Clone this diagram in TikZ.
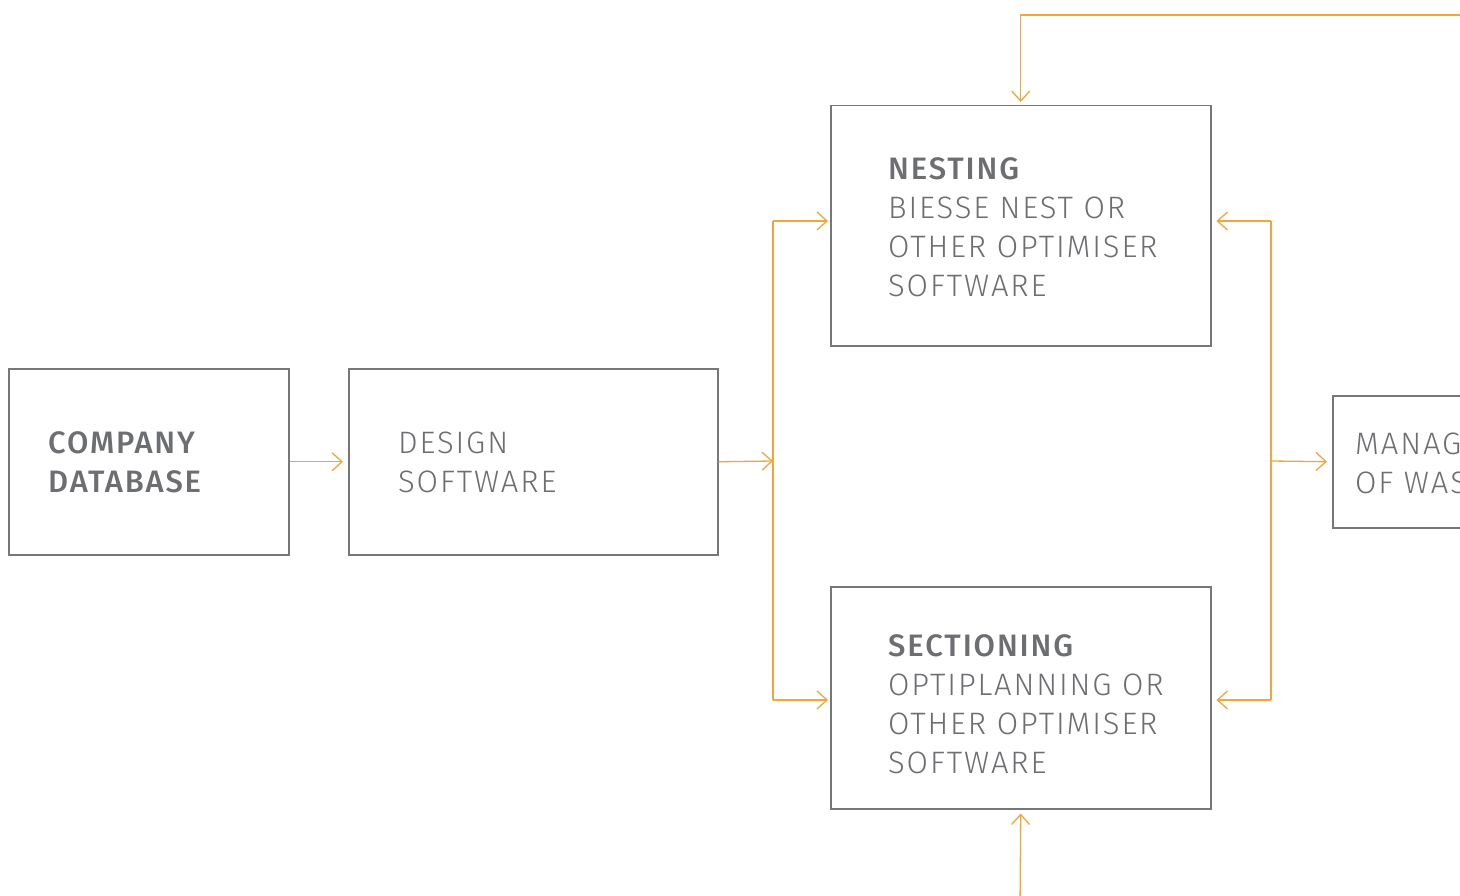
\documentclass[tikz,border=0pt]{standalone}
\usepackage{fontspec}
\setmainfont{Fira Sans}[UprightFont=* Light, BoldFont=* Medium, LetterSpace=6]
\usetikzlibrary{arrows.meta}
\definecolor{org}{HTML}{F4A43A}
\definecolor{txt}{HTML}{6D6E71}
\definecolor{brd}{HTML}{777777}
\begin{document}
\begin{tikzpicture}[x=1pt,y=-1pt,
  box/.style={draw=brd,line width=1.5pt,inner sep=0pt,anchor=north west},
  lbl/.style={text=txt,anchor=north west,inner sep=0pt,align=left,font=\fontsize{31}{39}\selectfont},
  flow/.style={draw=org,line width=1.3pt,-{Straight Barb[length=10pt,width=18pt]}},
  conn/.style={draw=org,line width=1.3pt}]
\useasboundingbox (0,0) rectangle (1460,896);
\clip (0,0) rectangle (1460,896);
% boxes
\node[box,minimum width=280pt,minimum height=186pt] (db) at (8,368) {};
\node[box,minimum width=369pt,minimum height=186pt] (design) at (348,368) {};
\node[box,minimum width=380pt,minimum height=240pt] (nest) at (830,105) {};
\node[box,minimum width=380pt,minimum height=222pt] (sect) at (830,586) {};
\node[box,minimum width=260pt,minimum height=132pt] (manag) at (1332,395) {};
% labels
\node[lbl] (dbt) at (48,431) {\textbf{COMPANY}\\\textbf{DATABASE}};
\node[lbl] (designt) at (398,432) {DESIGN\\SOFTWARE};
\node[lbl] (nestt) at (888,157) {\textbf{NESTING}\\BIESSE NEST OR\\OTHER OPTIMISER\\SOFTWARE};
\node[lbl] (sectt) at (888,634) {\textbf{SECTIONING}\\OPTIPLANNING OR\\OTHER OPTIMISER\\SOFTWARE};
\node[lbl] (managt) at (1355,433) {MANAGEMENT\\OF WASTE};
% junctions
\coordinate (jl) at (773,461);
\coordinate (jlt) at (773,221);
\coordinate (jlb) at (773,700);
\coordinate (jr) at (1271,461);
\coordinate (jrt) at (1271,221);
\coordinate (jrb) at (1271,700);
\coordinate (tr) at (1480,15);
\coordinate (bb) at (1020,910);
% connectors
\draw[flow,shorten >=5pt] (db.east) -- (design.west);
\draw[flow] (design.east) -- (jl);
\draw[conn] (jlt) -- (jlb);
\draw[flow,shorten >=2pt] (jlt) -- (nest.west |- jlt);
\draw[flow,shorten >=2pt] (jlb) -- (sect.west |- jlb);
\draw[conn] (jrt) -- (jrb);
\draw[flow,shorten >=5pt] (jrt) -- (nest.east |- jrt);
\draw[flow,shorten >=5pt] (jrb) -- (sect.east |- jrb);
\draw[flow,shorten >=5pt] (jr) -- (manag.west);
\draw[flow,shorten >=3pt] (tr) -| (nest.north);
\draw[flow,shorten >=4pt] (bb) -- (sect.south);
\end{tikzpicture}
\end{document}
